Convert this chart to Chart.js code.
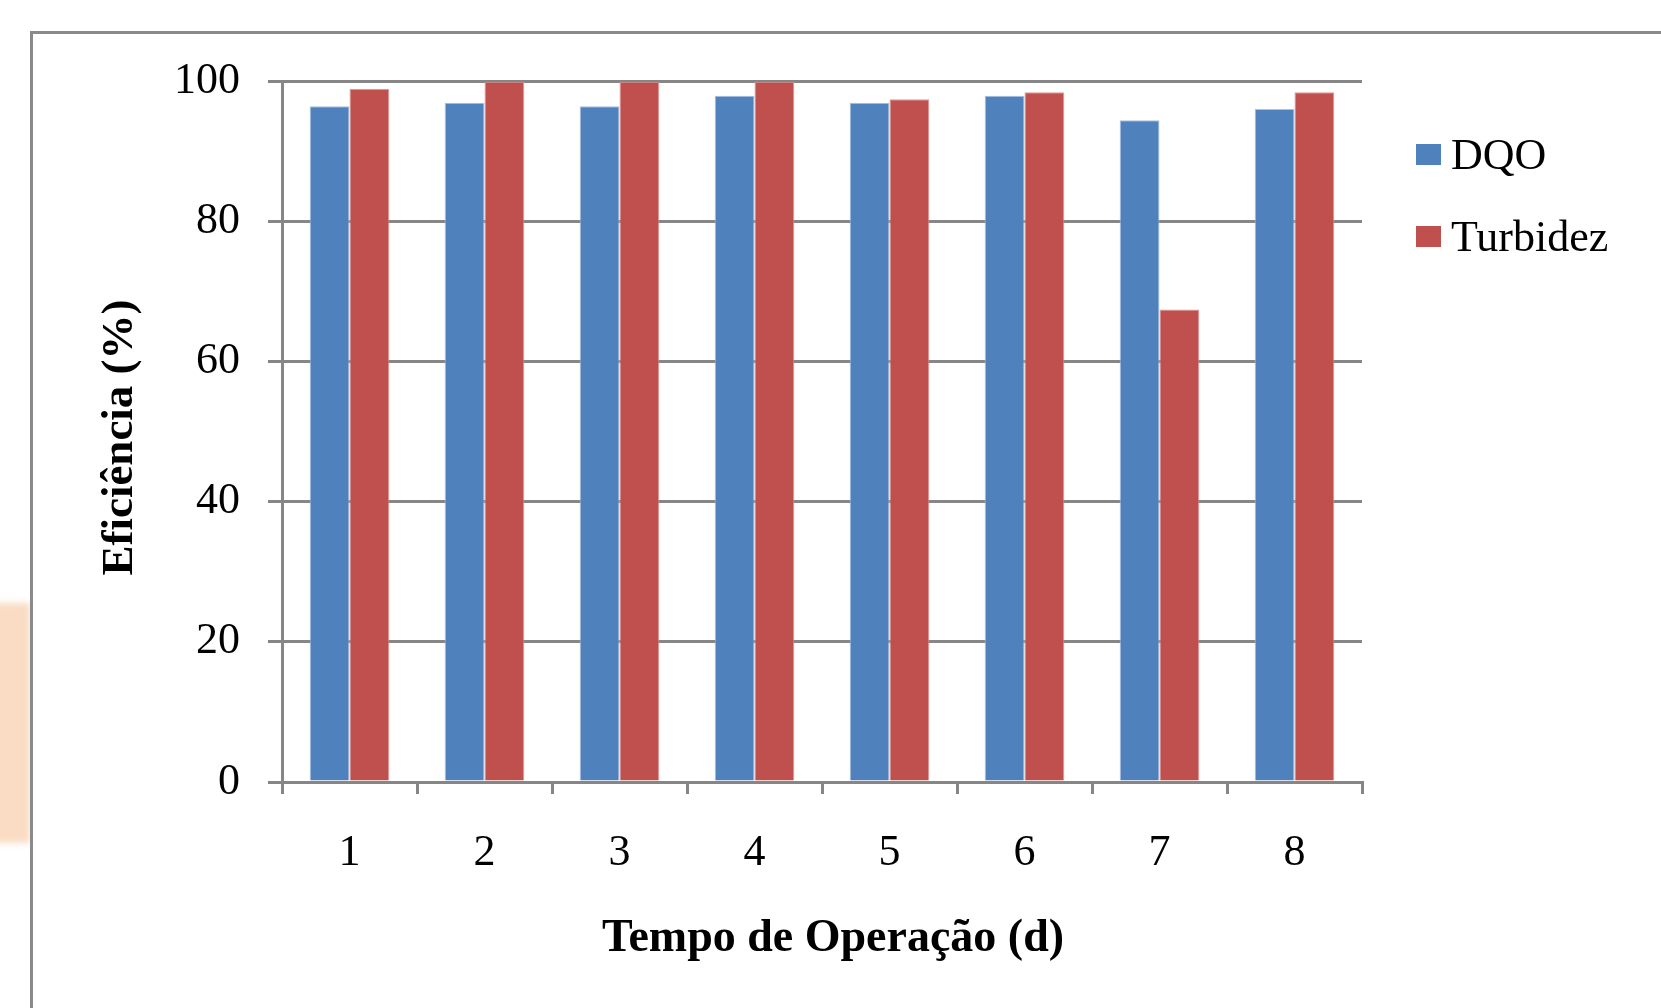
<!DOCTYPE html>
<html>
<head>
<meta charset="utf-8">
<script src="https://cdn.jsdelivr.net/npm/chart.js@4/dist/chart.umd.min.js"></script>
<style>
  html, body { margin: 0; padding: 0; background: #fff; overflow: hidden; }
  #wrap { position: relative; width: 1661px; height: 1008px; }
  .blob {
    position: absolute; left: -10px; top: 603px; width: 40px; height: 240px;
    background: #f9dcc3; filter: blur(3px);
  }
  .frame {
    position: absolute; left: 30px; top: 31px; width: 1700px; height: 1100px;
    border: 3px solid #8a8a8a; box-sizing: border-box; background: #fff;
  }
  canvas { position: absolute; left: 0; top: 0; }
</style>
</head>
<body>
<div id="wrap">
  <div class="blob"></div>
  <div class="frame"></div>
  <canvas id="chart" width="1661" height="1008"></canvas>
</div>
<script>
// dados do gráfico
const dias = ['1', '2', '3', '4', '5', '6', '7', '8'];
const dqo = [96.4, 96.9, 96.4, 97.9, 96.9, 97.9, 94.4, 96.0];
const turbidez = [98.9, 99.9, 99.9, 99.9, 97.4, 98.4, 67.4, 98.4];
const yTicks = [0, 20, 40, 60, 80, 100];

const cinza = '#868686';
const fonte = 'Liberation Serif, Times New Roman, serif';

// títulos dos eixos e legenda desenhados à mão
const extras = {
    id: 'extras',
    afterDraw(chart) {
        const ctx = chart.ctx;
        const area = chart.chartArea;
        ctx.save();
        ctx.fillStyle = '#000';
        ctx.font = 'bold 46px ' + fonte;
        ctx.textAlign = 'center';
        ctx.textBaseline = 'alphabetic';
        ctx.fillText('Tempo de Operação (d)', (area.left + area.right) / 2 + 11, 951);

        ctx.save();
        ctx.translate(132, (area.top + area.bottom) / 2 + 6);
        ctx.rotate(-Math.PI / 2);
        ctx.font = 'bold 45px ' + fonte;
        ctx.fillText('Eficiência (%)', 0, 0);
        ctx.restore();

        // legenda
        ctx.font = '44px ' + fonte;
        ctx.textAlign = 'left';
        chart.data.datasets.forEach((ds, i) => {
            const base = 169 + i * 82;
            ctx.fillStyle = ds.backgroundColor;
            ctx.fillRect(1416, base - 25, 25, 21);
            ctx.fillStyle = '#000';
            ctx.fillText(ds.label, 1451, base);
        });
        ctx.restore();
    }
};

const ctx = document.getElementById('chart').getContext('2d');
new Chart(ctx, {
    type: 'bar',
    data: {
        labels: dias,
        datasets: [{
            label: 'DQO',
            data: dqo,
            backgroundColor: '#4f81bd',
            borderColor: '#a9c1e0',
            borderWidth: 1,
            categoryPercentage: 0.59,
            barPercentage: 1.0
        }, {
            label: 'Turbidez',
            data: turbidez,
            backgroundColor: '#c0504d',
            borderColor: '#dc9896',
            borderWidth: 1,
            categoryPercentage: 0.59,
            barPercentage: 1.0
        }]
    },
    options: {
        responsive: false,
        animation: false,
        layout: {
            padding: { top: 81, right: 299, bottom: 0, left: 0 }
        },
        plugins: {
            legend: { display: false },
            tooltip: { enabled: false }
        },
        scales: {
            x: {
                afterFit(scale) { scale.height = 226; },
                grid: {
                    display: true,
                    drawOnChartArea: false,
                    drawTicks: true,
                    tickLength: 12,
                    color: cinza,
                    lineWidth: 3
                },
                border: { color: cinza, width: 3 },
                ticks: {
                    color: '#000',
                    padding: 33,
                    font: { family: fonte, size: 44 }
                }
            },
            y: {
                min: 0,
                max: 100,
                afterFit(scale) { scale.width = 282; },
                afterBuildTicks(scale) {
                    scale.ticks = yTicks.map(v => ({ value: v }));
                },
                grid: {
                    color: cinza,
                    lineWidth: 3,
                    tickLength: 14
                },
                border: { color: cinza, width: 3 },
                ticks: {
                    color: '#000',
                    padding: 28,
                    font: { family: fonte, size: 44 }
                }
            }
        }
    },
    plugins: [extras]
});
</script>
</body>
</html>
